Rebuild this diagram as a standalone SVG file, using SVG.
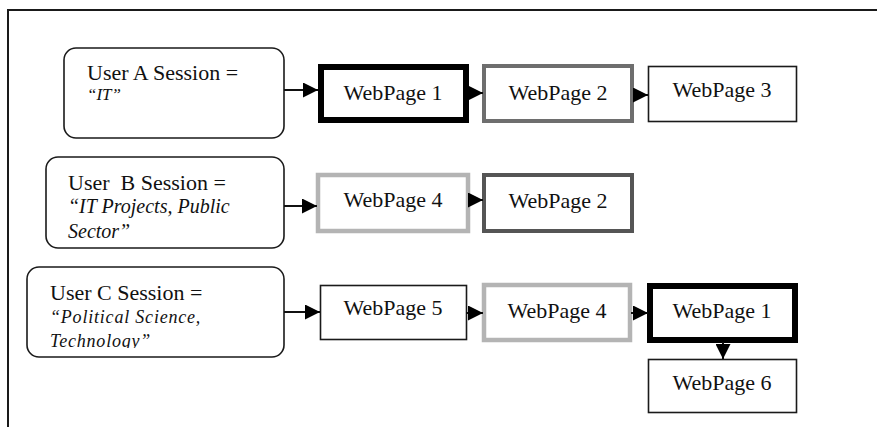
<svg xmlns="http://www.w3.org/2000/svg" width="877" height="427" viewBox="0 0 877 427">
  <style>
    .frame { fill: none; stroke: #1a1a1a; stroke-width: 2; }
    .session { fill: #ffffff; stroke: #1a1a1a; stroke-width: 1.6; }
    .page-thin { fill: #ffffff; stroke: #1a1a1a; stroke-width: 1.6; }
    .page-bold { fill: #ffffff; stroke: #000000; stroke-width: 6; }
    .page-grey { fill: #ffffff; stroke: #6e6e6e; stroke-width: 4; }
    .page-dark { fill: #ffffff; stroke: #555555; stroke-width: 4; }
    .page-light { fill: #ffffff; stroke: #b4b4b4; stroke-width: 4.5; }
    .lbl { font-family: "Liberation Serif", "DejaVu Serif", serif; font-size: 22px; fill: #111111; }
    .page-lbl { font-family: "Liberation Serif", "DejaVu Serif", serif; font-size: 22px; fill: #111111; text-anchor: middle; }
    .quote { font-family: "Liberation Serif", "DejaVu Serif", serif; font-style: italic; fill: #111111; }
    .link { fill: none; stroke: #111111; stroke-width: 2; }
  </style>
  <defs>
    <marker id="head" markerUnits="userSpaceOnUse" markerWidth="15" markerHeight="15" refX="15" refY="7.5" orient="auto">
      <path d="M0,0 L15,7.5 L0,15 z" fill="#000000"/>
    </marker>
    <clipPath id="clipB"><rect x="46" y="157" width="238" height="81"/></clipPath>
    <clipPath id="clipC"><rect x="27" y="267" width="257" height="81"/></clipPath>
  </defs>

  <rect width="877" height="427" fill="#ffffff"/>

  <!-- outer frame: top and left edges only -->
  <path class="frame" d="M8,427 L8,10 L877,10"/>

  <!-- sessions -->
  <g id="session-a">
    <rect class="session" x="64" y="48" width="220" height="90" rx="12" ry="12"/>
    <text class="lbl" x="87" y="80">User A Session =</text>
    <text class="quote" x="87" y="100" font-size="17">“IT”</text>
  </g>
  <g id="session-b">
    <rect class="session" x="46" y="157" width="238" height="91" rx="12" ry="12"/>
    <g clip-path="url(#clipB)">
      <text class="lbl" x="68" y="190" xml:space="preserve">User  B Session =</text>
      <text class="quote" x="68" y="213" font-size="20">“IT Projects, Public</text>
      <text class="quote" x="68" y="238" font-size="20">Sector”</text>
    </g>
  </g>
  <g id="session-c">
    <rect class="session" x="27" y="267" width="257" height="90" rx="12" ry="12"/>
    <g clip-path="url(#clipC)">
      <text class="lbl" x="50" y="300">User C Session =</text>
      <text class="quote" x="50" y="323" font-size="18" letter-spacing="0.8">“Political Science,</text>
      <text class="quote" x="50" y="347" font-size="18" letter-spacing="0.8">Technology”</text>
    </g>
  </g>

  <!-- row A pages -->
  <g id="a-page1">
    <rect class="page-bold" x="321" y="67" width="145" height="53"/>
    <text class="page-lbl" x="393" y="100">WebPage 1</text>
  </g>
  <g id="a-page2">
    <rect class="page-grey" x="484" y="66" width="148" height="55"/>
    <text class="page-lbl" x="558" y="100">WebPage 2</text>
  </g>
  <g id="a-page3">
    <rect class="page-thin" x="648.5" y="66.5" width="148" height="55"/>
    <text class="page-lbl" x="722" y="97">WebPage 3</text>
  </g>

  <!-- row B pages -->
  <g id="b-page4">
    <rect class="page-light" x="318" y="175" width="150" height="56"/>
    <text class="page-lbl" x="393" y="207">WebPage 4</text>
  </g>
  <g id="b-page2">
    <rect class="page-dark" x="484" y="175" width="148" height="56"/>
    <text class="page-lbl" x="558" y="208">WebPage 2</text>
  </g>

  <!-- row C pages -->
  <g id="c-page5">
    <rect class="page-thin" x="320.5" y="285.5" width="146" height="54"/>
    <text class="page-lbl" x="393" y="315">WebPage 5</text>
  </g>
  <g id="c-page4">
    <rect class="page-light" x="484" y="285" width="146" height="55"/>
    <text class="page-lbl" x="557" y="318">WebPage 4</text>
  </g>
  <g id="c-page1">
    <rect class="page-bold" x="650" y="286" width="145" height="54"/>
    <text class="page-lbl" x="722" y="318">WebPage 1</text>
  </g>
  <g id="c-page6">
    <rect class="page-thin" x="648.5" y="359.5" width="148" height="53"/>
    <text class="page-lbl" x="722" y="390">WebPage 6</text>
  </g>

  <!-- connectors -->
  <g id="connectors">
    <path class="link" d="M284,90 L318,90" marker-end="url(#head)"/>
    <path class="link" d="M468,93 L483,93" marker-end="url(#head)"/>
    <path class="link" d="M633,95 L648,95" marker-end="url(#head)"/>
    <path class="link" d="M284,206 L317,206" marker-end="url(#head)"/>
    <path class="link" d="M468,200 L483,200" marker-end="url(#head)"/>
    <path class="link" d="M284,312 L320,312" marker-end="url(#head)"/>
    <path class="link" d="M466,313 L483,313" marker-end="url(#head)"/>
    <path class="link" d="M631,313 L648,313" marker-end="url(#head)"/>
    <path class="link" d="M723,342 L723,359" marker-end="url(#head)"/>
  </g>
</svg>
